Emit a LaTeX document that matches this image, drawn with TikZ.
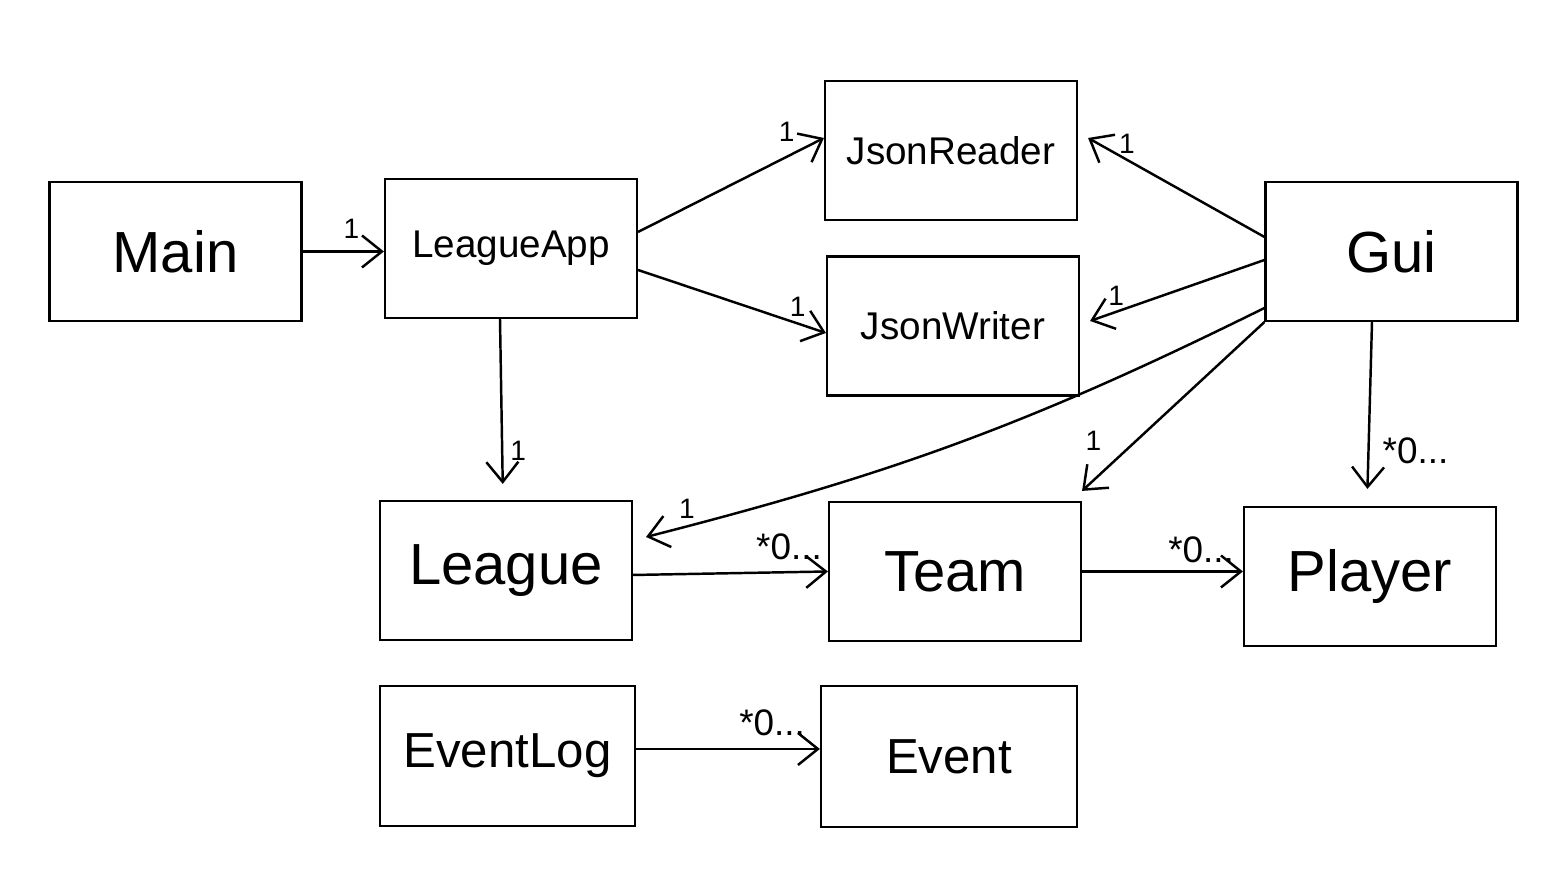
\documentclass[tikz,border=0pt]{standalone}
\usepackage{fontspec}
\setmainfont{Liberation Sans}
\usetikzlibrary{arrows.meta}

\begin{document}
\begin{tikzpicture}[>={Straight Barb[length=2mm,width=3.2mm]}, line width=0.7pt,
    cls/.style={draw, line width=0.6pt, minimum width=2.52cm, minimum height=1.39cm, inner sep=0pt},
    big/.style={font=\fontsize{16.5}{18}\selectfont},
    mid/.style={font=\fontsize{14}{16}\selectfont},
    small/.style={font=\fontsize{11}{13}\selectfont},
    one/.style={font=\fontsize{8}{9}\selectfont},
    many/.style={font=\fontsize{10.5}{12}\selectfont}]
    \useasboundingbox (0,0) rectangle (15.58,8.76);
    % classes
    \node[cls, big] (main) at (1.755,6.245) {Main};
    \node[cls, small] (lapp) at (5.11,6.275) {LeagueApp};
    \node[cls, small] (reader) at (9.51,7.255) {JsonReader};
    \node[cls, small] (writer) at (9.53,5.50) {JsonWriter};
    \node[cls, big] (gui) at (13.915,6.245) {Gui};
    \node[cls, big] (league) at (5.06,3.055) {League};
    \node[cls, big] (team) at (9.55,3.045) {Team};
    \node[cls, big] (player) at (13.70,2.995) {Player};
    \node[cls, mid, minimum width=2.55cm, minimum height=1.40cm] (elog) at (5.075,1.20) {EventLog};
    \node[cls, mid, minimum width=2.56cm, minimum height=1.41cm] (event) at (9.49,1.195) {Event};
    % associations
    \draw[->] (main.east) -- (main.east -| lapp.west) node[one, pos=0.6, yshift=0.23cm] {1};
    \draw[->] ([yshift=0.165cm]lapp.east) -- ([yshift=0.125cm]reader.west) node[one, pos=0.8, yshift=0.25cm] {1};
    \draw[->] ([yshift=-0.215cm]lapp.east) -- ([yshift=-0.07cm]writer.west) node[one, pos=0.85, yshift=0.17cm] {1};
    \draw[->, shorten >=0.16cm] ([xshift=-0.11cm]lapp.south) -- ([xshift=-0.03cm]league.north) node[one, pos=0.73, xshift=0.16cm] {1};
    \draw[->] ([yshift=0.145cm]gui.west) -- ([xshift=0.1cm,yshift=0.125cm]reader.east) node[one, pos=0.78, yshift=0.16cm] {1};
    \draw[->] ([yshift=-0.085cm]gui.west) -- ([xshift=0.1cm,yshift=0.05cm]writer.east) node[one, pos=0.85, yshift=0.16cm] {1};
    \draw[->] ([yshift=-0.565cm]gui.west) to[bend left=6] node[one, pos=0.93, xshift=-0.1cm, yshift=0.15cm] {1} ([xshift=0.13cm,yshift=0.335cm]league.east);
    \draw[->] (gui.south west) -- ([yshift=0.1cm]team.north east) node[one, pos=0.8, xshift=-0.25cm, yshift=0.16cm] {1};
    \draw[->, shorten >=0.17cm] ([xshift=-0.195cm]gui.south) -- ([xshift=-0.03cm]player.north) node[many, pos=0.7, xshift=0.47cm] {*0...};
    \draw[->] ([yshift=-0.045cm]league.east) -- (team.west) node[many, pos=0.8, yshift=0.25cm] {*0...};
    \draw[->] (team.east) -- (team.east -| player.west) node[many, pos=0.74, yshift=0.22cm] {*0...};
    \draw[->] ([yshift=0.07cm]elog.east) -- ([yshift=0.07cm]elog.east -| event.west) node[many, pos=0.74, yshift=0.26cm] {*0...};
\end{tikzpicture}
\end{document}
